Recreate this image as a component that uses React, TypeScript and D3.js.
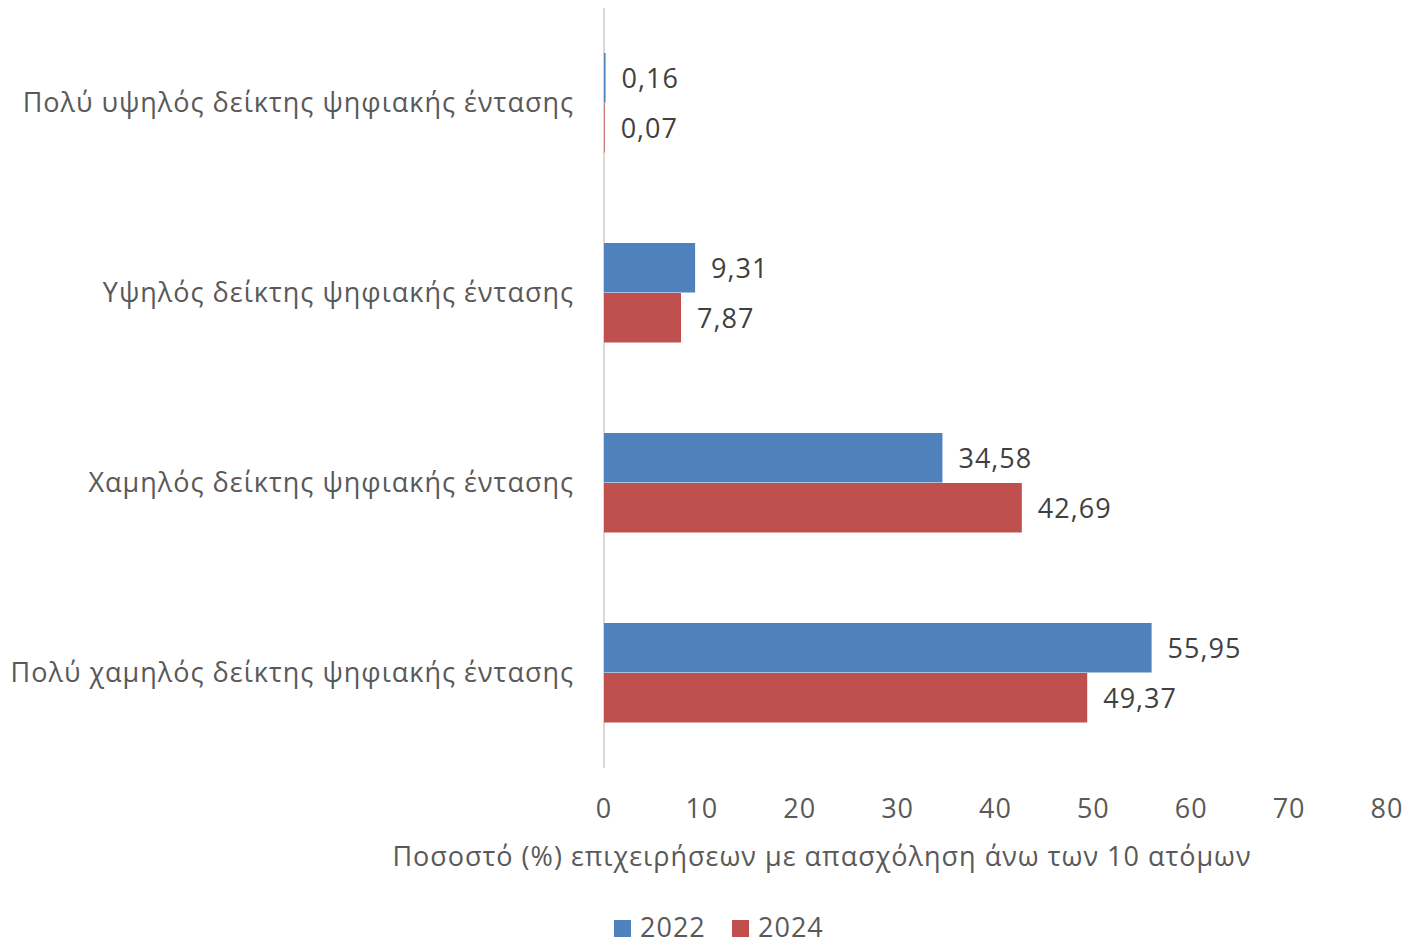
import React from "react";
import * as d3 from "d3";

const categories = [
  "Πολύ υψηλός δείκτης ψηφιακής έντασης",
  "Υψηλός δείκτης ψηφιακής έντασης",
  "Χαμηλός δείκτης ψηφιακής έντασης",
  "Πολύ χαμηλός δείκτης ψηφιακής έντασης",
];
const series = ["2022", "2024"];
const values2022 = [0.16, 9.31, 34.58, 55.95];
const values2024 = [0.07, 7.87, 42.69, 49.37];
const xTicks = [0, 10, 20, 30, 40, 50, 60, 70, 80];
const xTitle = "Ποσοστό (%) επιχειρήσεων με απασχόληση άνω των 10 ατόμων";
const colors = ["#4F81BD", "#C0504D"];

const W = 1406;
const H = 944;
const FONT = "'Open Sans', 'DejaVu Sans', sans-serif";
const TEXT = "#595959";
const FS = 27;
const LS = 1;

export default function App() {
  const x = d3.scaleLinear().domain([0, 80]).range([604, 1387]);
  const y = d3.scaleBand().domain(categories).range([8, 768]);
  const inner = d3.scaleBand().domain(series).range([y.bandwidth() / 2 - 50, y.bandwidth() / 2 + 50]);
  const data = [values2022, values2024];
  const fmt = (v: number) => v.toFixed(2).replace(".", ",");

  return (
    <svg width={W} height={H} style={{ position: "absolute", left: 0, top: 0 }} fontFamily={FONT} letterSpacing={LS}>
      <rect width={W} height={H} fill="#fff" />
      <line x1={x(0)} x2={x(0)} y1={8} y2={768} stroke="#d9d9d9" strokeWidth={2} />
      {categories.map((c, i) => (
        <g key={c} transform={`translate(0,${y(c)})`}>
          <text x={574} y={y.bandwidth() / 2 - 2} textAnchor="end" dominantBaseline="central" fontSize={FS} fill={TEXT}>
            {c}
          </text>
          {series.map((s, j) => {
            const v = data[j][i];
            const yy = inner(s)!;
            return (
              <g key={s}>
                <rect x={x(0)} y={yy} width={Math.max(x(v) - x(0), 0)} height={inner.bandwidth() - 0.5} fill={colors[j]} />
                <text x={x(v) + 16} y={yy + inner.bandwidth() / 2 - 1} dominantBaseline="central" fontSize={FS} fill="#404040">
                  {fmt(v)}
                </text>
              </g>
            );
          })}
        </g>
      ))}
      {xTicks.map((t) => (
        <text key={t} x={x(t)} y={807} textAnchor="middle" dominantBaseline="central" fontSize={FS} fill={TEXT}>
          {t}
        </text>
      ))}
      <text x={822} y={855} textAnchor="middle" dominantBaseline="central" fontSize={FS} fill={TEXT}>
        {xTitle}
      </text>
      {series.map((s, j) => (
        <g key={s} transform={`translate(${j === 0 ? 614 : 732},0)`}>
          <rect x={0} y={920} width={17} height={17} fill={colors[j]} />
          <text x={26} y={926} dominantBaseline="central" fontSize={FS} fill={TEXT}>
            {s}
          </text>
        </g>
      ))}
    </svg>
  );
}
